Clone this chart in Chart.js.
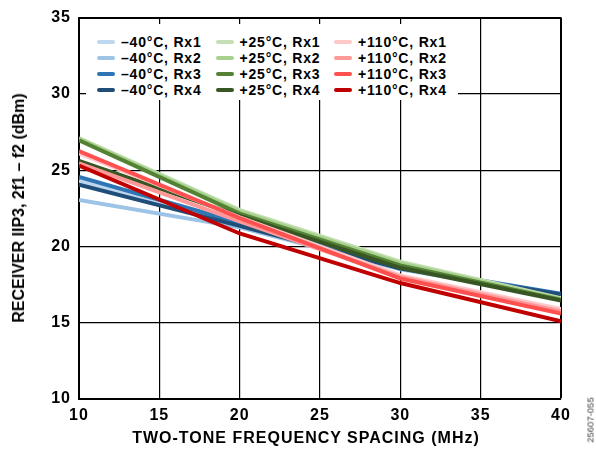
<!DOCTYPE html>
<html>
<head>
<meta charset="utf-8">
<script src="https://cdn.jsdelivr.net/npm/chart.js@4/dist/chart.umd.min.js"></script>
<style>
  html, body { margin: 0; padding: 0; background: #fff; }
  #wrap { position: relative; width: 596px; height: 449px; font-family: 'Liberation Sans', Arial, sans-serif; }
  #c { position: absolute; left: 0; top: 0; }
  #legend { position: absolute; left: 86px; top: 24px; width: 372px; height: 76px; background: #fff; }
  .item { position: absolute; height: 16px; display: flex; align-items: center; font-weight: bold; font-size: 14px; letter-spacing: 0.8px; color: #000; white-space: nowrap; }
  .swatch { width: 18px; height: 4px; border-radius: 2px; margin-right: 6px; }
  #ytitle { position: absolute; left: 19px; top: 208px; transform: translate(-50%, -50%) rotate(-90deg); font-weight: bold; font-size: 16px; white-space: nowrap; color: #000; }
  #xtitle { position: absolute; left: 306px; top: 438px; transform: translate(-50%, -50%); font-weight: bold; font-size: 16px; letter-spacing: 1px; white-space: nowrap; color: #000; }
  #code { position: absolute; left: 590px; top: 420px; transform: translate(-50%, -50%) rotate(-90deg); font-size: 9.5px; white-space: nowrap; color: #444; }
</style>
</head>
<body>
<div id="wrap">
  <canvas id="c" width="596" height="449"></canvas>
  <div id="legend"></div>
  <div id="ytitle">RECEIVER IIP3, 2f1 – f2 (dBm)</div>
  <div id="xtitle">TWO-TONE FREQUENCY SPACING (MHz)</div>
  <div id="code">25607-055</div>
</div>
<script>
// ---- data ----
const freqs = [10, 20, 30, 40];
const xTicks = [10, 15, 20, 25, 30, 35, 40];
const yTicks = [10, 15, 20, 25, 30, 35];
const temps = ['–40°C', '+25°C', '+110°C'];
const receivers = ['Rx1', 'Rx2', 'Rx3', 'Rx4'];

const m40Rx1 = [24.3, 21.45, 18.6, 16.8];
const m40Rx2 = [23.05, 21.25, 18.5, 16.75];
const m40Rx3 = [24.55, 21.55, 18.65, 16.9];
const m40Rx4 = [24.05, 21.35, 18.55, 16.85];

const p25Rx1 = [27.1, 22.4, 19.0, 16.6];
const p25Rx2 = [27.05, 22.3, 18.9, 16.55];
const p25Rx3 = [26.95, 22.15, 18.75, 16.5];
const p25Rx4 = [25.6, 22.0, 18.6, 16.45];

const p110Rx1 = [26.1, 21.9, 18.1, 15.9];
const p110Rx2 = [25.45, 21.65, 18.0, 15.75];
const p110Rx3 = [26.25, 21.85, 17.9, 15.6];
const p110Rx4 = [25.3, 20.85, 17.6, 15.1];

const seriesByTemp = [
  [m40Rx1, m40Rx2, m40Rx3, m40Rx4],
  [p25Rx1, p25Rx2, p25Rx3, p25Rx4],
  [p110Rx1, p110Rx2, p110Rx3, p110Rx4]
];
const colorsByTemp = [
  ['#bdd7ee', '#9dc3e6', '#2e75b6', '#1f4e79'],
  ['#c5e0b4', '#a9d18e', '#548235', '#375623'],
  ['#ffc7c7', '#ff9999', '#ff5050', '#c00000']
];

// ---- build datasets ----
const datasets = [];
temps.forEach((t, ti) => {
  receivers.forEach((r, ri) => {
    datasets.push({
      label: t + ', ' + r,
      data: freqs.map((f, i) => ({ x: f, y: seriesByTemp[ti][ri][i] })),
      borderColor: colorsByTemp[ti][ri],
      backgroundColor: colorsByTemp[ti][ri],
      borderWidth: 4,
      pointRadius: 0,
      tension: 0,
      fill: false,
      order: -(ti * 4 + ri)
    });
  });
});

// ---- legend (HTML, column-major like the original) ----
const legend = document.getElementById('legend');
temps.forEach((t, ti) => {
  receivers.forEach((r, ri) => {
    const it = document.createElement('div');
    it.className = 'item';
    it.style.left = (11 + ti * 118.5) + 'px';
    it.style.top = (9.7 + ri * 16) + 'px';
    const sw = document.createElement('span');
    sw.className = 'swatch';
    sw.style.background = colorsByTemp[ti][ri];
    const tx = document.createElement('span');
    tx.textContent = t + ', ' + r;
    it.appendChild(sw);
    it.appendChild(tx);
    legend.appendChild(it);
  });
});

const spacing = {
  id: 'spacing',
  beforeLayout(chart) { chart.ctx.letterSpacing = '1px'; },
  beforeDraw(chart) { chart.ctx.letterSpacing = '1px'; }
};

Chart.defaults.font.family = "'Liberation Sans', Arial, sans-serif";
Chart.defaults.color = '#000';

new Chart(document.getElementById('c'), {
  type: 'line',
  data: { datasets },
  plugins: [spacing],
  options: {
    responsive: false,
    animation: false,
    layout: { padding: { top: 15, right: 35, left: 0, bottom: 0 } },
    plugins: { legend: { display: false }, tooltip: { enabled: false } },
    scales: {
      x: {
        type: 'linear', min: 10, max: 40,
        afterBuildTicks(s) { s.ticks = xTicks.map(v => ({ value: v })); },
        afterFit(s) { s.height = 50; },
        ticks: { padding: 7, color: '#000', font: { size: 16, weight: 'bold' } },
        grid: { color: '#000', lineWidth: c => (c.tick && c.tick.value === 40) ? 2 : 1.2, drawTicks: false },
        border: { color: '#000', width: 2 },
        title: { display: false }
      },
      y: {
        min: 10, max: 35,
        afterBuildTicks(s) { s.ticks = yTicks.map(v => ({ value: v })); },
        afterFit(s) { s.width = 79; },
        ticks: { padding: 8, color: '#000', font: { size: 16, weight: 'bold' } },
        grid: { color: '#000', lineWidth: c => (c.tick && c.tick.value === 35) ? 2 : 1.2, drawTicks: false },
        border: { color: '#000', width: 2 }
      }
    }
  }
});
</script>
</body>
</html>
